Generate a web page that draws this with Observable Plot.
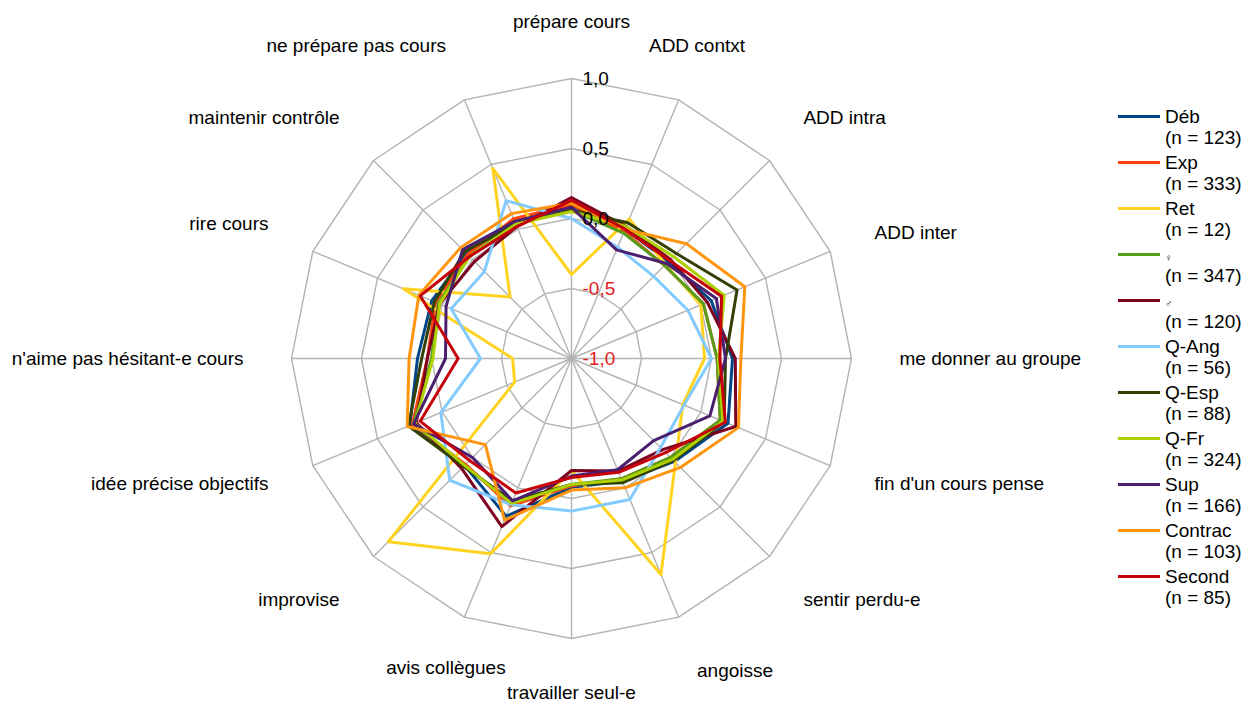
<!DOCTYPE html>
<html>
<head>
<meta charset="utf-8">
<script src="https://cdn.jsdelivr.net/npm/d3@7"></script>
<script src="https://cdn.jsdelivr.net/npm/@observablehq/plot@0.6"></script>
<style>
  html, body { margin: 0; padding: 0; background: #fff; }
  #wrap { position: relative; width: 1253px; height: 704px; font-family: "Liberation Sans", Arial, sans-serif; }
  #chart { position: absolute; left: 0; top: 0; }
  #chart svg { overflow: visible; }
  #legend { position: absolute; left: 1118px; top: 105px; font-size: 19px; color: #000; }
  .item { height: 46px; }
  .l1 { line-height: 23px; height: 23px; }
  .n { padding-left: 47px; line-height: 19px; }
  .sw { display: inline-block; width: 42px; height: 3px; vertical-align: middle; margin-right: 5px; position: relative; top: -1px; }
  .sym { font-size: 10px; }
</style>
</head>
<body>
<div id="wrap"><div id="chart"></div><div id="legend"></div></div>
<script>
// ---- data ----
const categories = ["prépare cours","ADD contxt","ADD intra","ADD inter","me donner au groupe","fin d'un cours pense","sentir perdu-e","angoisse","travailler seul-e","avis collègues","improvise","idée précise objectifs","n'aime pas hésitant-e cours","rire cours","maintenir contrôle","ne prépare pas cours"];
const seriesNames = ["Déb","Exp","Ret","♀","♂","Q-Ang","Q-Esp","Q-Fr","Sup","Contrac","Second"];
const seriesCounts = ["(n = 123)","(n = 333)","(n = 12)","(n = 347)","(n = 120)","(n = 56)","(n = 88)","(n = 324)","(n = 166)","(n = 103)","(n = 85)"];
const seriesColors = ["#004586","#ff420e","#ffd320","#579d1c","#7e0021","#83caff","#314004","#aecf00","#4b1f6f","#ff950e","#c5000b"];
const deb     = [0.09, 0.00, -0.02, 0.08, 0.15, 0.21, 0.04, -0.05, -0.08, 0.22, 0.08, 0.25, 0.10, 0.08, 0.06, 0.06];
const exp     = [0.10, -0.02, -0.06, 0.02, 0.04, 0.15, 0.00, -0.07, -0.09, 0.14, 0.07, 0.23, 0.03, 0.05, 0.05, 0.08];
const ret     = [-0.40, 0.08, -0.05, 0.00, -0.05, -0.14, 0.05, 0.67, -0.20, 0.51, 0.85, -0.56, -0.58, 0.30, -0.38, 0.47];
const femmes  = [0.06, -0.03, -0.06, 0.02, 0.04, 0.15, 0.00, -0.07, -0.10, 0.12, 0.08, 0.22, 0.00, 0.03, 0.03, 0.05];
const hommes  = [0.15, 0.02, 0.00, 0.05, 0.17, 0.27, -0.08, -0.13, -0.20, 0.30, 0.11, 0.20, 0.03, 0.02, -0.02, 0.02];
const qAng    = [0.00, -0.14, -0.17, -0.10, 0.00, -0.13, -0.10, 0.09, 0.09, 0.13, 0.23, 0.01, -0.35, -0.07, -0.12, 0.22];
const qEsp    = [0.06, 0.05, 0.06, 0.28, 0.10, 0.18, 0.03, -0.04, -0.10, 0.10, 0.09, 0.26, 0.07, 0.06, 0.08, 0.04];
const qFr     = [0.05, 0.02, 0.03, 0.18, 0.05, 0.17, 0.02, -0.06, -0.10, 0.12, 0.08, 0.21, -0.01, 0.02, 0.03, 0.04];
const sup     = [0.08, -0.16, -0.04, 0.12, 0.10, 0.07, -0.17, -0.14, -0.16, 0.10, 0.00, 0.22, -0.10, -0.03, 0.10, 0.06];
const contrac = [0.11, 0.00, 0.16, 0.34, 0.21, 0.29, 0.10, 0.00, -0.06, 0.25, -0.13, 0.27, 0.16, 0.18, 0.12, 0.12];
const second  = [0.13, 0.00, -0.01, 0.16, 0.06, 0.19, -0.05, -0.12, -0.15, 0.04, 0.03, 0.17, -0.19, 0.17, 0.03, 0.02];
const tickValues = [-1, -0.5, 0, 0.5, 1];
const tickLabels = ["-1,0", "-0,5", "0,0", "0,5", "1,0"];

const seriesValues = [deb, exp, ret, femmes, hommes, qAng, qEsp, qFr, sup, contrac, second];

// ---- layout ----
const W = 1110, H = 704, CX = 571, CY = 358, R = 280;
const vMin = -1, vMax = 1;
const n = categories.length;
const ang = i => (i * 2 * Math.PI) / n;
const u = v => (v - vMin) / (vMax - vMin);
const px = (v, i) => u(v) * Math.sin(ang(i));
const py = (v, i) => u(v) * Math.cos(ang(i));

// rings
const rings = [];
tickValues.filter(t => t > vMin).forEach(t => {
  for (let i = 0; i <= n; i++) rings.push({ring: t, x: px(t, i % n), y: py(t, i % n)});
});
// spokes
const spokes = categories.map((c, i) => ({x1: 0, y1: 0, x2: px(vMax, i), y2: py(vMax, i)}));
// series polylines (closed)
const lines = [];
seriesNames.forEach((s, si) => {
  for (let i = 0; i <= n; i++) {
    const v = seriesValues[si][i % n];
    lines.push({series: s, x: px(v, i % n), y: py(v, i % n)});
  }
});
// category labels
const labelR = 328 / R;
const catLabels = categories.map((c, i) => {
  const a = ang(i);
  const sh = Math.sin(a - Math.PI / 180);
  const s = Math.sin(a), co = Math.cos(a);
  const ta = sh > 0.383 ? "start" : sh < -0.383 ? "end" : "middle";
  let la;
  if (co > 0.39 || (co > 0.38 && s < 0)) la = "bottom";
  else if (co < -0.39) la = "top";
  else la = "middle";
  return {text: c, x: labelR * s, y: labelR * co, ta, la};
});
const tickData = tickValues.map((t, k) => ({x: 0, y: u(t), label: tickLabels[k], neg: t < 0}));

const font = "Liberation Sans, Arial, sans-serif";
const marks = [
  Plot.line(rings, {x: "x", y: "y", z: "ring", stroke: "#b3b3b3", strokeWidth: 1.4}),
  Plot.link(spokes, {x1: "x1", y1: "y1", x2: "x2", y2: "y2", stroke: "#b3b3b3", strokeWidth: 1.4}),
];
seriesNames.forEach((s, si) => {
  marks.push(Plot.line(lines.filter(d => d.series === s), {x: "x", y: "y", stroke: seriesColors[si], strokeWidth: 3, strokeLinejoin: "round"}));
});
marks.push(Plot.text(tickData, {x: "x", y: "y", text: "label", textAnchor: "start", dx: 11, fill: d => d.neg ? "#e52222" : "#000", fontSize: 19, fontFamily: font}));
const dyFor = (ta, la) => la === "bottom" ? -3 : la === "top" ? (ta === "middle" ? -1 : 2) : 0;
["start", "middle", "end"].forEach(ta => ["top", "middle", "bottom"].forEach(la => {
  const sub = catLabels.filter(d => d.ta === ta && d.la === la);
  if (sub.length) marks.push(Plot.text(sub, {x: "x", y: "y", text: "text", textAnchor: ta, lineAnchor: la, dy: dyFor(ta, la), fill: "#000", fontSize: 19, fontFamily: font}));
}));

const chart = Plot.plot({
  width: W, height: H, margin: 0,
  x: {domain: [-CX / R, (W - CX) / R], axis: null},
  y: {domain: [-(H - CY) / R, CY / R], axis: null},
  style: {background: "#fff", fontFamily: font},
  marks
});
document.getElementById("chart").appendChild(chart);

// legend
const leg = document.getElementById("legend");
seriesNames.forEach((s, i) => {
  const it = document.createElement("div");
  it.className = "item";
  const isSym = s === "♀" || s === "♂";
  it.innerHTML = `<div class="l1"><span class="sw" style="background:${seriesColors[i]}"></span><span class="${isSym ? "sym" : ""}">${s}</span></div><div class="n">${seriesCounts[i]}</div>`;
  leg.appendChild(it);
});
</script>
</body>
</html>
